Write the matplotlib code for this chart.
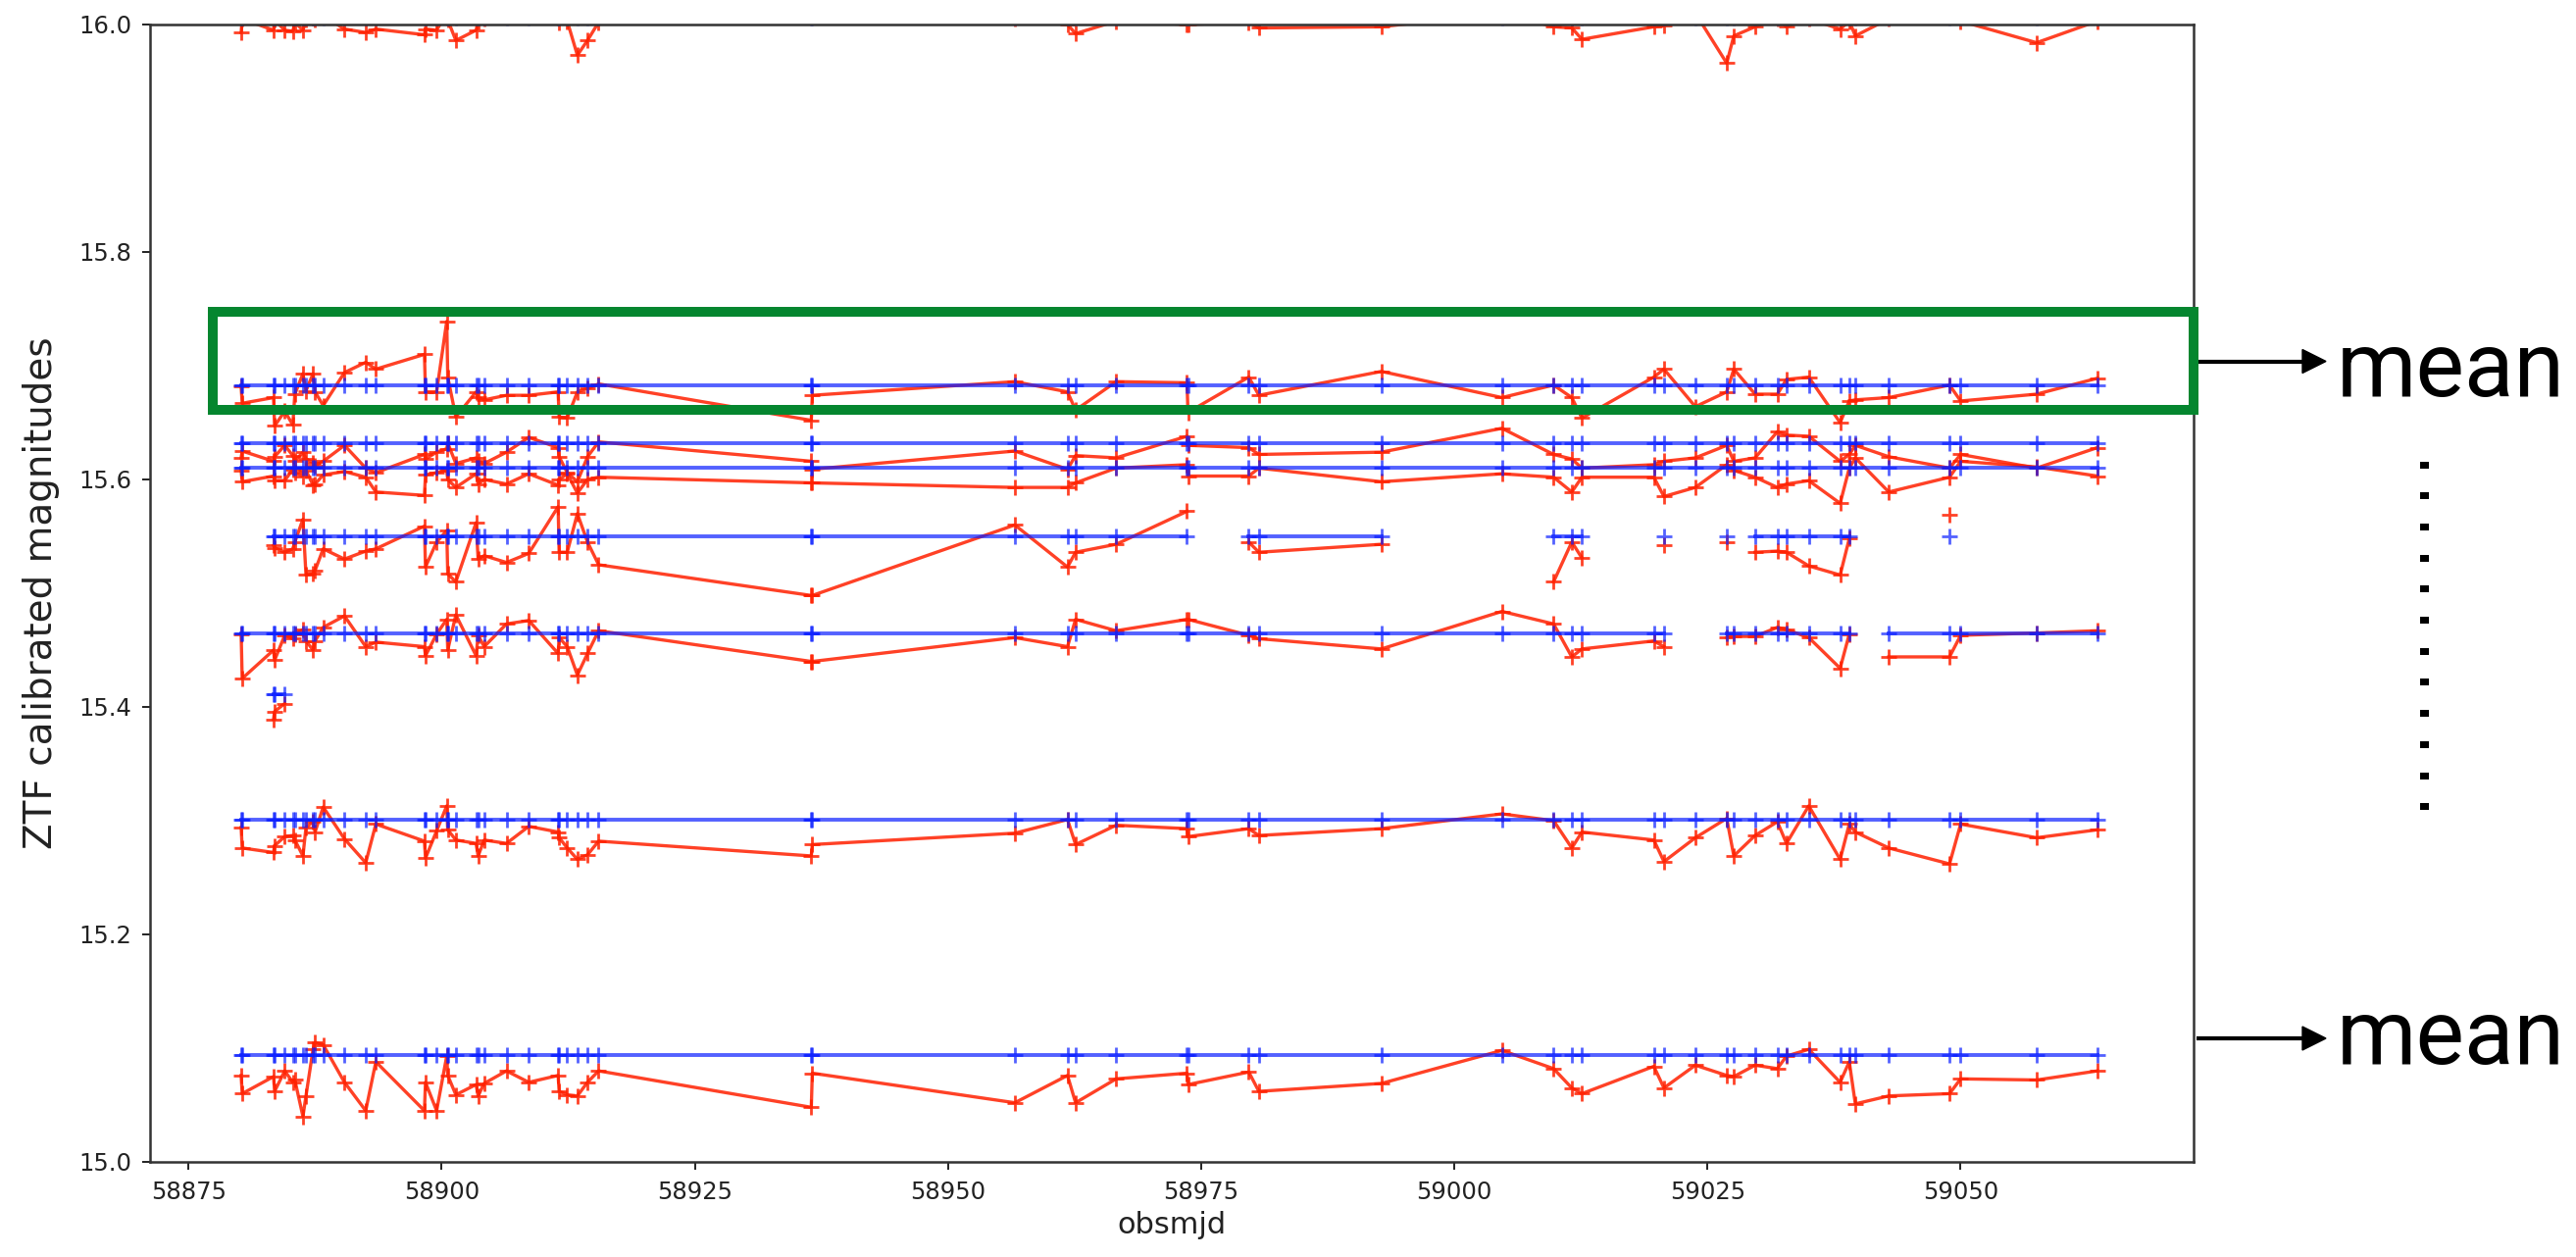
import numpy as np
import matplotlib
matplotlib.use("Agg")
import matplotlib.pyplot as plt
from matplotlib.patches import Rectangle, Polygon
from matplotlib.lines import Line2D
from matplotlib.transforms import IdentityTransform

nan = np.nan

# Observation epochs (MJD) shared by all comparison stars
obsmjd = [
    58880.2, 58880.3, 58883.4, 58883.5, 58884.5, 58885.3, 58885.5, 58886.3,
    58886.6, 58887.3, 58887.5, 58888.3, 58890.4, 58892.5, 58893.5, 58898.3,
    58898.4, 58899.5, 58900.5, 58900.6, 58901.4, 58903.4, 58903.6, 58904.2,
    58906.4, 58908.6, 58911.5, 58911.6, 58912.4, 58913.4, 58914.4, 58915.5,
    58936.5, 58936.6, 58956.6, 58961.8, 58962.6, 58966.6, 58973.6, 58973.7,
    58979.7, 58980.7, 58992.8, 59004.7, 59009.8, 59011.6, 59012.6, 59019.7,
    59020.7, 59023.8, 59026.9, 59027.6, 59029.7, 59031.9, 59032.8, 59035.0,
    59038.1, 59039.0, 59039.6, 59042.9, 59048.9, 59050.0, 59057.5, 59063.5,
]

# Calibrated magnitudes of each star (nan = no measurement)
mag_star1 = [
    15.993, 16.005, 15.995, 16.004, 15.995, 15.994, 16.002, 15.995,
    16.004, 16.006, 16.004, 16.008, 15.996, 15.993, 15.996, 15.991,
    15.996, 15.995, 16.010, 16.004, 15.986, 15.995, 16.003, 16.005,
    16.010, 16.010, 16.010, 16.002, 16.003, 15.973, 15.986, 16.002,
    16.010, 16.010, 16.005, 16.000, 15.992, 16.003, 16.000, 16.000,
    16.002, 15.997, 15.998, 16.010, 15.998, 15.997, 15.987, 15.998,
    15.999, 16.010, 15.966, 15.990, 15.998, 16.005, 15.998, 16.005,
    15.996, 16.003, 15.990, 16.005, 16.008, 16.003, 15.984, 16.003,
]
mag_star2 = [
    15.682, 15.667, 15.672, 15.647, 15.660, 15.648, 15.675, 15.693,
    15.678, 15.693, 15.677, 15.665, 15.694, 15.703, 15.697, 15.710,
    15.677, 15.677, 15.739, 15.690, 15.655, 15.677, 15.672, 15.670,
    15.674, 15.674, 15.677, 15.655, 15.654, 15.677, 15.680, 15.684,
    15.652, 15.674, 15.686, 15.677, 15.661, 15.686, 15.685, 15.659,
    15.690, 15.674, 15.695, 15.672, 15.683, 15.672, 15.654, 15.690,
    15.697, 15.664, 15.677, 15.697, 15.675, 15.675, 15.688, 15.690,
    15.650, 15.669, 15.670, 15.672, 15.683, 15.669, 15.675, 15.689,
]
mag_star3 = [
    15.619, 15.625, 15.616, 15.620, 15.630, 15.621, 15.616, 15.624,
    15.618, 15.615, 15.612, 15.616, 15.630, 15.610, 15.606, 15.622,
    15.618, 15.624, 15.627, 15.632, 15.614, 15.619, 15.616, 15.614,
    15.624, 15.637, 15.628, 15.620, 15.606, 15.598, 15.620, 15.633,
    15.616, 15.609, 15.625, 15.609, 15.621, 15.619, 15.638, 15.630,
    15.628, 15.622, 15.624, 15.645, 15.622, 15.618, 15.610, 15.613,
    15.616, 15.619, 15.630, 15.616, 15.619, 15.642, 15.639, 15.638,
    15.616, 15.622, 15.630, 15.620, 15.610, 15.622, 15.610, 15.628,
]
mag_star4 = [
    15.608, 15.598, 15.603, 15.599, 15.599, 15.609, 15.606, 15.603,
    15.608, 15.595, 15.596, 15.604, 15.607, 15.602, 15.589, 15.586,
    15.604, 15.606, 15.608, 15.600, 15.593, 15.605, 15.596, 15.600,
    15.596, 15.605, 15.595, 15.600, 15.605, 15.588, 15.600, 15.602,
    15.597, 15.597, 15.593, 15.593, 15.597, 15.610, 15.613, 15.603,
    15.603, 15.610, 15.598, 15.605, 15.602, 15.589, 15.602, 15.602,
    15.585, 15.593, 15.613, 15.608, 15.602, 15.593, 15.596, 15.599,
    15.579, 15.610, 15.619, 15.589, 15.602, 15.616, 15.611, 15.603,
]
mag_star5 = [
    nan, nan, 15.542, 15.540, 15.536, 15.539, 15.545, 15.565,
    15.516, 15.517, 15.520, 15.539, 15.530, 15.537, 15.539, 15.559,
    15.523, 15.545, 15.555, 15.517, 15.510, 15.562, 15.530, 15.533,
    15.527, 15.535, 15.576, 15.536, 15.536, 15.570, 15.545, 15.525,
    15.498, 15.498, 15.560, 15.523, 15.536, 15.543, 15.572, nan,
    15.545, 15.536, 15.543, nan, 15.510, 15.545, 15.531, nan,
    15.542, nan, 15.545, nan, 15.536, 15.537, 15.536, 15.524,
    15.516, 15.548, nan, nan, 15.569, nan, nan, nan,
]
mag_star6 = [
    15.464, 15.425, 15.450, 15.441, 15.463, 15.460, 15.464, 15.468,
    15.458, 15.450, 15.458, 15.470, 15.480, 15.453, 15.457, 15.453,
    15.445, 15.464, 15.477, 15.450, 15.481, 15.445, 15.463, 15.453,
    15.473, 15.476, 15.447, 15.461, 15.453, 15.428, 15.447, 15.467,
    15.440, 15.440, 15.461, 15.453, 15.477, 15.467, 15.477, 15.477,
    15.463, 15.460, 15.451, 15.484, 15.473, 15.444, 15.451, 15.458,
    15.453, nan, 15.461, 15.462, 15.462, 15.470, 15.468, 15.461,
    15.434, 15.464, nan, 15.444, 15.444, 15.463, 15.465, 15.467,
]
mag_star7 = [nan, nan, 15.389, 15.396, 15.403] + [nan] * 59
mag_star8 = [
    15.294, 15.276, 15.272, 15.278, 15.286, 15.287, 15.283, 15.269,
    15.294, 15.299, 15.290, 15.312, 15.284, 15.263, 15.297, 15.282,
    15.267, 15.291, 15.313, 15.292, 15.283, 15.280, 15.269, 15.283,
    15.280, 15.295, 15.290, 15.285, 15.276, 15.266, 15.270, 15.282,
    15.269, 15.279, 15.289, 15.301, 15.279, 15.296, 15.293, 15.286,
    15.293, 15.287, 15.293, 15.306, 15.300, 15.276, 15.290, 15.283,
    15.264, 15.285, 15.302, 15.269, 15.287, 15.299, 15.280, 15.313,
    15.266, 15.297, 15.290, 15.276, 15.262, 15.297, 15.285, 15.292,
]
mag_star9 = [
    15.076, 15.060, 15.075, 15.062, 15.080, 15.070, 15.072, 15.040,
    15.058, 15.099, 15.105, 15.103, 15.070, 15.045, 15.088, 15.045,
    15.070, 15.045, 15.093, 15.076, 15.059, 15.068, 15.058, 15.069,
    15.080, 15.070, 15.076, 15.062, 15.059, 15.058, 15.070, 15.080,
    15.048, 15.078, 15.052, 15.076, 15.052, 15.073, 15.078, 15.068,
    15.079, 15.062, 15.069, 15.098, 15.082, 15.065, 15.060, 15.084,
    15.065, 15.085, 15.076, 15.075, 15.085, 15.082, 15.093, 15.099,
    15.070, 15.088, 15.051, 15.058, 15.060, 15.073, 15.072, 15.080,
]

# Mean magnitude of each star
mean_mags = [16.006, 15.683, 15.632, 15.610, 15.550, 15.465, 15.411, 15.301, 15.094]

stars = [mag_star1, mag_star2, mag_star3, mag_star4, mag_star5,
         mag_star6, mag_star7, mag_star8, mag_star9]

W, H, DPI = 2627, 1282, 100
fig = plt.figure(figsize=(W / DPI, H / DPI), dpi=DPI)
fig.patch.set_facecolor("white")
ax = fig.add_axes([153 / W, 1 - 1185 / H, (2237 - 153) / W, (1185 - 25) / H])

t = np.array(obsmjd)
for mags, mu in zip(stars, mean_mags):
    m = np.array(mags, dtype=float)
    ax.plot(t, m, color="#ff2000", alpha=0.85, lw=2.4, marker="+",
            ms=12, mew=2.0)
    ax.plot(t, np.where(np.isnan(m), np.nan, mu), color="#0a1eff", alpha=0.7,
            lw=2.8, marker="+", ms=12, mew=2.0)

ax.set_xlim(58871.2, 59073.0)
ax.set_ylim(15.0, 16.0)
ax.set_xticks([58875, 58900, 58925, 58950, 58975, 59000, 59025, 59050])
ax.set_yticks([15.0, 15.2, 15.4, 15.6, 15.8, 16.0])
ax.set_yticklabels(["15.0", "15.2", "15.4", "15.6", "15.8", "16.0"])
ax.tick_params(labelsize=17.5, length=5.5, width=1.4, pad=8, colors="#222222")
for s in ax.spines.values():
    s.set_linewidth(1.8)
    s.set_color("#333333")
ax.set_xlabel("obsmjd", fontsize=22, labelpad=5, color="#222222")
ax.set_ylabel("ZTF calibrated magnitudes", fontsize=28, labelpad=14, color="#222222")

# Overlay annotations, placed in pixel coordinates (origin top-left)
ident = IdentityTransform()


def P(x, y):
    return (x, H - y)


box = Rectangle(P(217, 418), 2236.5 - 217, 100, fill=False, ec="#05862f",
                lw=7.2, joinstyle="miter", transform=ident, zorder=10)
fig.add_artist(box)

for ya in (368.5, 1059):
    fig.add_artist(Line2D([2240, 2350], [H - ya, H - ya], color="black",
                          lw=3.0, transform=ident, solid_capstyle="butt"))
    fig.add_artist(Polygon([P(2348, ya - 12), P(2372, ya), P(2348, ya + 12)],
                           closed=True, color="black", transform=ident))

for yb in (404, 1084.5):
    fig.text(2383 / W, 1 - yb / H, "mean", family=["Roboto", "Liberation Sans"],
             fontweight="normal", fontsize=67, ha="left", va="baseline",
             color="black")

for k in range(12):
    yc = 474 + k * 31.7
    fig.add_artist(Rectangle(P(2467.5, yc + 3.5), 9, 7, color="black",
                             transform=ident, lw=0))

fig.savefig("out.png", dpi=DPI, facecolor="white")
